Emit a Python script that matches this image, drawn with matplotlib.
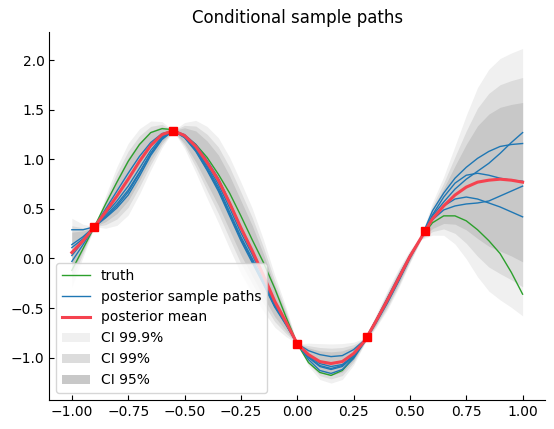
import numpy as np
import matplotlib
matplotlib.use("Agg")
import matplotlib.pyplot as plt

x = np.linspace(-1.0, 1.0, 41)

truth = [-0.12, 0.10, 0.32, 0.55, 0.77, 0.98, 1.15, 1.27, 1.31, 1.30,
         1.24, 1.15, 1.02, 0.85, 0.66, 0.43, 0.19, -0.04, -0.30, -0.59,
         -0.86, -1.05, -1.15, -1.18, -1.13, -1.00, -0.83, -0.62, -0.41, -0.19,
         0.02, 0.21, 0.36, 0.43, 0.43, 0.38, 0.29, 0.18, 0.05, -0.14, -0.36]

post_mean = [0.06, 0.18, 0.32, 0.47, 0.63, 0.80, 0.98, 1.14, 1.25, 1.29,
             1.24, 1.13, 0.97, 0.79, 0.56, 0.31, 0.08, -0.17, -0.43, -0.64,
             -0.86, -0.97, -1.04, -1.06, -1.04, -0.96, -0.83, -0.63, -0.42, -0.20,
             0.02, 0.21, 0.40, 0.53, 0.64, 0.72, 0.77, 0.79, 0.80, 0.79, 0.77]

post_sd = [0.105, 0.05, 0.0, 0.05, 0.09, 0.11, 0.10, 0.075, 0.04, 0.0,
           0.04, 0.08, 0.11, 0.13, 0.14, 0.14, 0.13, 0.11, 0.08, 0.045,
           0.0, 0.035, 0.055, 0.06, 0.055, 0.035, 0.008, 0.02, 0.03, 0.03,
           0.02, 0.006, 0.05, 0.09, 0.15, 0.22, 0.29, 0.34, 0.37, 0.39, 0.41]

path1 = [0.29, 0.29, 0.32, 0.41, 0.51, 0.64, 0.83, 1.04, 1.20, 1.29,
         1.22, 1.08, 0.89, 0.68, 0.43, 0.18, -0.04, -0.26, -0.49, -0.67,
         -0.86, -0.93, -0.97, -0.99, -0.98, -0.92, -0.82, -0.62, -0.40, -0.18,
         0.03, 0.21, 0.40, 0.53, 0.60, 0.62, 0.60, 0.56, 0.52, 0.47, 0.42]
path2 = [0.14, 0.22, 0.32, 0.45, 0.58, 0.73, 0.91, 1.09, 1.23, 1.29,
         1.23, 1.11, 0.94, 0.75, 0.51, 0.26, 0.04, -0.20, -0.45, -0.65,
         -0.86, -0.98, -1.06, -1.09, -1.07, -0.98, -0.83, -0.64, -0.44, -0.22,
         0.01, 0.21, 0.44, 0.62, 0.76, 0.84, 0.86, 0.84, 0.81, 0.79, 0.78]
path3 = [0.11, 0.20, 0.32, 0.43, 0.55, 0.69, 0.87, 1.06, 1.21, 1.29,
         1.23, 1.10, 0.92, 0.72, 0.47, 0.22, 0.00, -0.23, -0.47, -0.66,
         -0.86, -1.00, -1.09, -1.12, -1.09, -0.99, -0.83, -0.63, -0.41, -0.19,
         0.02, 0.21, 0.39, 0.49, 0.53, 0.55, 0.56, 0.58, 0.63, 0.68, 0.73]
path4 = [0.03, 0.17, 0.32, 0.50, 0.68, 0.86, 1.03, 1.17, 1.26, 1.29,
         1.25, 1.15, 0.99, 0.81, 0.57, 0.31, 0.07, -0.19, -0.45, -0.65,
         -0.86, -1.02, -1.13, -1.16, -1.12, -1.01, -0.84, -0.65, -0.45, -0.23,
         0.00, 0.21, 0.43, 0.57, 0.70, 0.80, 0.88, 0.96, 1.06, 1.17, 1.27]
path5 = [-0.03, 0.14, 0.32, 0.42, 0.53, 0.67, 0.86, 1.06, 1.22, 1.29,
         1.22, 1.09, 0.90, 0.70, 0.45, 0.20, -0.02, -0.25, -0.48, -0.66,
         -0.86, -0.99, -1.08, -1.11, -1.08, -0.98, -0.83, -0.62, -0.41, -0.19,
         0.03, 0.21, 0.48, 0.66, 0.81, 0.92, 1.01, 1.08, 1.13, 1.15, 1.16]
paths = [path1, path2, path3, path4, path5]

obs_x = [-0.90, -0.55, 0.00, 0.31, 0.565]
obs_y = [0.32, 1.29, -0.86, -0.79, 0.28]

ci_levels = [("CI 99.9%", 3.29, "#f0f0f0"),
             ("CI 99%", 2.576, "#dcdcdc"),
             ("CI 95%", 1.96, "#c8c8c8")]

mu = np.array(post_mean)
sd = np.array(post_sd)

fig = plt.figure(figsize=(5.54, 4.29), dpi=100)
ax = fig.add_axes([0.089, 0.068, 0.895, 0.858])

for lab, z, col in ci_levels:
    ax.fill_between(x, mu - z * sd, mu + z * sd, color=col, lw=0, label=lab, zorder=1)

ax.plot(x, truth, color="#2ca02c", lw=1, label="truth", zorder=2)
for i, p in enumerate(paths):
    ax.plot(x, p, color="#1f77b4", lw=1,
            label="posterior sample paths" if i == 0 else None, zorder=3)
ax.plot(x, post_mean, color="#f5424f", lw=2.2, label="posterior mean", zorder=4)
ax.plot(obs_x, obs_y, "s", color="red", ms=6, zorder=5)

ax.set_title("Conditional sample paths")
ax.spines["top"].set_visible(False)
ax.spines["right"].set_visible(False)
ax.tick_params(direction="in")

h, l = ax.get_legend_handles_labels()
order = ["truth", "posterior sample paths", "posterior mean", "CI 99.9%", "CI 99%", "CI 95%"]
hd = dict(zip(l, h))
ax.legend([hd[k] for k in order], order, loc="lower left")

fig.savefig("out.png", dpi=100)
